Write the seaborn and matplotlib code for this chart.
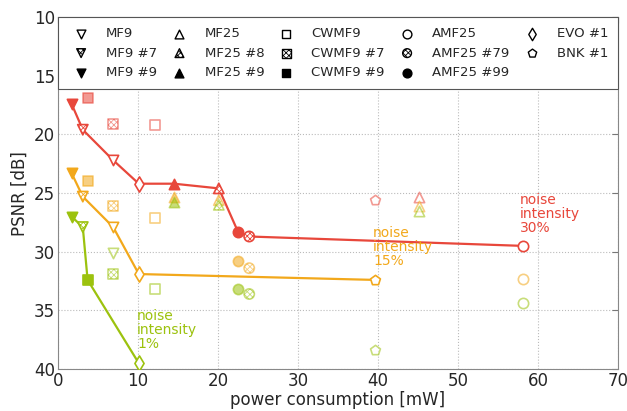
import numpy as np
import matplotlib
matplotlib.use('Agg')
import matplotlib.pyplot as plt
import seaborn as sns
import pandas as pd

# methods and their power consumption [mW]
methods = ['MF9', 'MF9 #7', 'MF9 #9', 'MF25', 'MF25 #8', 'MF25 #9',
           'CWMF9', 'CWMF9 #7', 'CWMF9 #9', 'AMF25', 'AMF25 #79', 'AMF25 #99',
           'EVO #1', 'BNK #1']
power = [6.9, 3.1, 1.7, 45.1, 20.1, 14.5,
         12.1, 6.9, 3.7, 58.1, 23.9, 22.5,
         10.1, 39.6]

# PSNR [dB] for each noise intensity (same order as methods)
psnr_30 = [22.2, 19.6, 17.4, 25.3, 24.6, 24.2,
           19.2, 19.1, 16.9, 29.5, 28.7, 28.3,
           24.2, 25.6]
psnr_15 = [27.9, 25.3, 23.3, 26.1, 25.6, 25.3,
           27.1, 26.1, 24.0, 32.3, 31.4, 30.8,
           31.9, 32.4]
psnr_1 = [30.1, 27.9, 27.0, 26.5, 26.0, 25.8,
          33.2, 31.9, 32.4, 34.4, 33.6, 33.2,
          39.5, 38.4]

# methods on the pareto front of each noise level
front_30 = ['MF9 #9', 'MF9 #7', 'MF9', 'EVO #1', 'MF25 #9', 'MF25 #8',
            'AMF25 #99', 'AMF25 #79', 'AMF25']
front_15 = ['MF9 #9', 'MF9 #7', 'MF9', 'EVO #1', 'BNK #1']
front_1 = ['MF9 #9', 'MF9 #7', 'CWMF9 #9', 'EVO #1']

levels = [('30%', psnr_30, front_30, '#e8473b'),
          ('15%', psnr_15, front_15, '#f2a81b'),
          ('1%', psnr_1, front_1, '#9cc20e')]

marker_of = {'MF9': 'v', 'MF25': '^', 'CWMF9': 's', 'AMF25': 'o', 'EVO': 'd', 'BNK': 'p'}


def style(name):
    base = name.split(' ')[0]
    m = marker_of[base]
    if name.endswith('#9') or name.endswith('#99'):
        kind = 'filled'
    elif '#' in name and base not in ('EVO', 'BNK'):
        kind = 'hatched'
    else:
        kind = 'open'
    return m, kind


def draw_point(ax, x, y, name, color, alpha, zorder):
    m, kind = style(name)
    s = 55 if m != 'd' else 60
    if kind == 'filled':
        ax.scatter([x], [y], marker=m, s=s, facecolor=color, edgecolor=color,
                   linewidth=1.2, alpha=alpha, zorder=zorder)
    elif kind == 'hatched':
        ax.scatter([x], [y], marker=m, s=s, facecolor='white', edgecolor=color,
                   hatch='xxxxxx', linewidth=1.2, alpha=alpha, zorder=zorder)
    else:
        ax.scatter([x], [y], marker=m, s=s, facecolor='white', edgecolor=color,
                   linewidth=1.2, alpha=alpha, zorder=zorder)


sns.set_style('white')
plt.rcParams['hatch.linewidth'] = 0.6
fig = plt.figure(figsize=(6.27, 4.11), dpi=100)
ax = fig.add_axes([0.0925, 0.102, 0.8932, 0.8564])

for label, psnr, front, color in levels:
    df = pd.DataFrame({'power': power, 'psnr': psnr, 'method': methods})
    line = df.set_index('method').loc[front].reset_index()
    sns.lineplot(data=line, x='power', y='psnr', sort=False, estimator=None,
                 color=color, linewidth=1.6, ax=ax, zorder=3)
    for _, r in df.iterrows():
        on = r['method'] in front
        draw_point(ax, r['power'], r['psnr'], r['method'], color,
                   1.0 if on else 0.55, 4 if on else 2)

# annotations
ax.text(57.7, 25.0, 'noise\nintensity\n30%', color=levels[0][3], fontsize=10,
        va='top', ha='left', linespacing=1.0)
ax.text(39.4, 27.8, 'noise\nintensity\n15%', color=levels[1][3], fontsize=10,
        va='top', ha='left', linespacing=1.0)
ax.text(9.9, 34.9, 'noise\nintensity\n1%', color=levels[2][3], fontsize=10,
        va='top', ha='left', linespacing=1.0)

# legend with black markers
handles = []
for name in methods:
    m, kind = style(name)
    if kind == 'filled':
        h = ax.scatter([], [], marker=m, s=40, facecolor='black', edgecolor='black')
    elif kind == 'hatched':
        h = ax.scatter([], [], marker=m, s=40, facecolor='white', edgecolor='black',
                       hatch='xxxxxx', linewidth=1.0)
    else:
        h = ax.scatter([], [], marker=m, s=40, facecolor='white', edgecolor='black',
                       linewidth=1.0)
    handles.append(h)
leg = ax.legend(handles, methods, ncol=5, loc='upper left', bbox_to_anchor=(0, 0, 1, 1),
                mode='expand', fontsize=9.5, frameon=True, fancybox=False,
                framealpha=1, edgecolor='#555555', labelspacing=0.5,
                handletextpad=0.9, borderpad=0.75, borderaxespad=0, scatterpoints=1)
leg.get_frame().set_linewidth(0.8)
leg.set_zorder(10)

ax.set_xlim(0, 70)
ax.set_ylim(40, 10)
ax.set_xticks(np.arange(0, 71, 10))
ax.set_yticks(np.arange(10, 41, 5))
ax.grid(True, linestyle=':', color='#bbbbbb', linewidth=0.8)
ax.tick_params(direction='in', top=True, right=True, labelsize=12, length=4,
               color='#777777', pad=2)
for sp in ax.spines.values():
    sp.set_color('#888888')
ax.set_xlabel('power consumption [mW]', fontsize=12, labelpad=1)
ax.set_ylabel('PSNR [dB]', fontsize=12)

fig.savefig('out.png', dpi=100)
